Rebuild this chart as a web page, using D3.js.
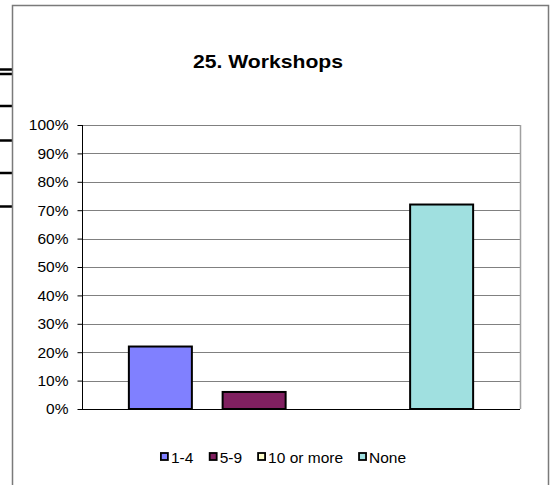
<!DOCTYPE html>
<html>
<head>
<meta charset="utf-8">
<script src="https://cdn.jsdelivr.net/npm/d3@7"></script>
<style>
  html, body { margin: 0; padding: 0; background: #fff; }
  svg { display: block; }
  text { font-family: "Liberation Sans", Arial, sans-serif; }
</style>
</head>
<body>
<svg id="chart" width="553" height="485"></svg>
<script>
// ---- data ----
const title = "25. Workshops";
const series = ["1-4", "5-9", "10 or more", "None"];
const values = [0.22, 0.06, 0, 0.72];
const colors = ["#8080FF", "#802060", "#FFFFCC", "#A0E0E0"];
const yTicks = [0, 0.1, 0.2, 0.3, 0.4, 0.5, 0.6, 0.7, 0.8, 0.9, 1.0];

// ---- layout ----
const W = 553, H = 485;
const plot = { left: 82, right: 520, top: 125, bottom: 409 };

const svg = d3.select("#chart");

// background document artefacts on the left edge (lines behind the chart frame)
const artefactY = [69.5, 74, 106, 140.5, 173, 206.5];
svg.selectAll("line.artefact").data(artefactY).enter().append("line")
  .attr("x1", 0).attr("x2", 12).attr("y1", d => d).attr("y2", d => d)
  .attr("stroke", "#000").attr("stroke-width", 2.5);

// chart frame
svg.append("path")
  .attr("d", `M12.5,${H} L12.5,5.5 L548.5,5.5 L548.5,${H}`)
  .attr("fill", "#fff").attr("stroke", "#7a7a7a").attr("stroke-width", 1.5);

// scales
const x = d3.scaleBand().domain(series)
  .range([plot.left, plot.right]).paddingInner(0.328).paddingOuter(0.5);
const y = d3.scaleLinear().domain([0, 1]).range([plot.bottom, plot.top]);

// gridlines
svg.append("g").selectAll("line").data(yTicks.filter(d => d > 0)).enter().append("line")
  .attr("x1", plot.left).attr("x2", plot.right)
  .attr("y1", d => Math.round(y(d)) + 0.5).attr("y2", d => Math.round(y(d)) + 0.5)
  .attr("stroke", "#808080").attr("stroke-width", 1);

// right plot border
svg.append("line")
  .attr("x1", plot.right + 0.5).attr("x2", plot.right + 0.5)
  .attr("y1", plot.top).attr("y2", plot.bottom)
  .attr("stroke", "#a0a0a0").attr("stroke-width", 1.5);

// bars
svg.append("g").selectAll("rect").data(series.map((s, i) => ({ s, v: values[i], c: colors[i] })).filter(d => d.v > 0))
  .enter().append("rect")
  .attr("x", d => x(d.s))
  .attr("y", d => y(d.v))
  .attr("width", x.bandwidth())
  .attr("height", d => y(0) - y(d.v))
  .attr("fill", d => d.c)
  .attr("stroke", "#000").attr("stroke-width", 2);

// y axis
const yAxis = d3.axisLeft(y).tickValues(yTicks).tickFormat(d3.format(".0%"))
  .tickSize(5).tickPadding(9);
const gy = svg.append("g").attr("transform", `translate(${plot.left + 0.5},0)`).call(yAxis);
gy.select(".domain").attr("stroke", "#000").attr("d", `M0,${plot.top}V${plot.bottom}`);
gy.selectAll(".tick line").attr("stroke", "#000");
gy.selectAll(".tick text").attr("font-size", 15.5).attr("fill", "#000")
  .attr("font-family", '"Liberation Sans", Arial, sans-serif');

// x axis baseline
svg.append("line")
  .attr("x1", plot.left).attr("x2", plot.right)
  .attr("y1", plot.bottom + 0.5).attr("y2", plot.bottom + 0.5)
  .attr("stroke", "#000").attr("stroke-width", 1.2);

// title
svg.append("text")
  .attr("x", 268).attr("y", 68)
  .attr("text-anchor", "middle")
  .attr("font-size", 19).attr("font-weight", "bold")
  .attr("textLength", 150).attr("lengthAdjust", "spacingAndGlyphs")
  .text(title);

// legend
const legend = svg.append("g").attr("transform", "translate(0,457)");
const items = legend.selectAll("g").data(series).enter().append("g");
items.append("rect")
  .attr("width", 7).attr("height", 7).attr("y", -4)
  .attr("fill", (d, i) => colors[i])
  .attr("stroke", "#000").attr("stroke-width", 1.8);
items.append("text")
  .attr("x", 10).attr("y", 5.5)
  .attr("font-size", 15.5).attr("fill", "#000")
  .text(d => d);
// lay out legend items horizontally, centred
const gap = 16;
let widths = [];
items.each(function () { widths.push(this.getBBox().width); });
const total = d3.sum(widths) + gap * (widths.length - 1);
let cx = 283.5 - total / 2;
items.each(function (d, i) {
  d3.select(this).attr("transform", `translate(${cx},0)`);
  cx += widths[i] + gap;
});
</script>
</body>
</html>
